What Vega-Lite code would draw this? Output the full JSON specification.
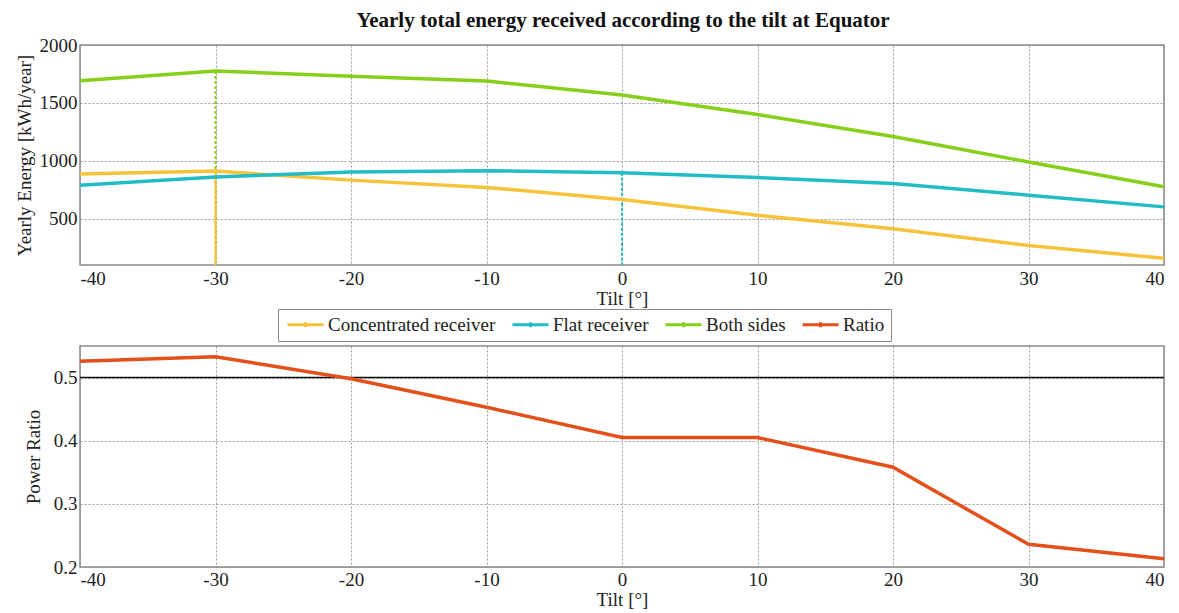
{
  "$schema": "https://vega.github.io/schema/vega-lite/v6.json",
  "padding": {"left": 14, "top": 10, "right": 6, "bottom": 0},
  "background": "white",
  "title": {"text": "Yearly total energy received according to the tilt at Equator", "font": "Liberation Serif", "fontSize": 21, "fontWeight": "bold", "color": "#111", "offset": 4, "anchor": "middle", "dx": 30},
  "config": {
    "font": "Liberation Serif",
    "view": {"stroke": "#8a8a8a", "strokeWidth": 1.5},
    "axis": {
      "labelFont": "Liberation Serif", "labelFontSize": 19, "labelColor": "#222",
      "titleFont": "Liberation Serif", "titleFontSize": 19, "titleFontWeight": "normal", "titleColor": "#222",
      "domain": false, "ticks": false,
      "gridColor": "#8f8f9a", "gridDash": [2, 2], "gridWidth": 1, "gridOpacity": 0.9
    },
    "legend": {
      "labelFont": "Liberation Serif", "labelFontSize": 19, "labelColor": "#222", "labelLimit": 400,
      "symbolType": "M-1,0H5M2,-0.4V0.4", "symbolStrokeWidth": 3, "symbolSize": 144,
      "labelOffset": 25, "strokeColor": "#8a8a8a", "padding": 6, "columnPadding": 10
    }
  },
  "datasets": {
    "energy": [
      {"tilt": -40, "series": "Concentrated receiver", "value": 885},
      {"tilt": -30, "series": "Concentrated receiver", "value": 911},
      {"tilt": -20, "series": "Concentrated receiver", "value": 833},
      {"tilt": -10, "series": "Concentrated receiver", "value": 770},
      {"tilt": 0, "series": "Concentrated receiver", "value": 665},
      {"tilt": 10, "series": "Concentrated receiver", "value": 529},
      {"tilt": 20, "series": "Concentrated receiver", "value": 413},
      {"tilt": 30, "series": "Concentrated receiver", "value": 268},
      {"tilt": 40, "series": "Concentrated receiver", "value": 158},
      {"tilt": -40, "series": "Flat receiver", "value": 789},
      {"tilt": -30, "series": "Flat receiver", "value": 860},
      {"tilt": -20, "series": "Flat receiver", "value": 903},
      {"tilt": -10, "series": "Flat receiver", "value": 915},
      {"tilt": 0, "series": "Flat receiver", "value": 897},
      {"tilt": 10, "series": "Flat receiver", "value": 856},
      {"tilt": 20, "series": "Flat receiver", "value": 804},
      {"tilt": 30, "series": "Flat receiver", "value": 703},
      {"tilt": 40, "series": "Flat receiver", "value": 602},
      {"tilt": -40, "series": "Both sides", "value": 1692},
      {"tilt": -30, "series": "Both sides", "value": 1775},
      {"tilt": -20, "series": "Both sides", "value": 1730},
      {"tilt": -10, "series": "Both sides", "value": 1689},
      {"tilt": 0, "series": "Both sides", "value": 1568},
      {"tilt": 10, "series": "Both sides", "value": 1399},
      {"tilt": 20, "series": "Both sides", "value": 1210},
      {"tilt": 30, "series": "Both sides", "value": 990},
      {"tilt": 40, "series": "Both sides", "value": 775}
    ],
    "markers": [
      {"tilt": -30, "series": "Both sides", "top": 1775, "bottom": 100},
      {"tilt": -30, "series": "Concentrated receiver", "top": 911, "bottom": 100},
      {"tilt": 0, "series": "Flat receiver", "top": 897, "bottom": 100}
    ],
    "ratio": [
      {"tilt": -40, "ratio": 0.526},
      {"tilt": -30, "ratio": 0.533},
      {"tilt": -20, "ratio": 0.498},
      {"tilt": -10, "ratio": 0.453},
      {"tilt": 0, "ratio": 0.405},
      {"tilt": 10, "ratio": 0.405},
      {"tilt": 20, "ratio": 0.358},
      {"tilt": 30, "ratio": 0.236},
      {"tilt": 40, "ratio": 0.213}
    ],
    "ref": [{"level": 0.5}]
  },
  "spacing": 2,
  "resolve": {"scale": {"color": "independent"}, "legend": {"color": "independent"}},
  "vconcat": [
    {
      "width": 1084,
      "height": 220,
      "layer": [
        {
          "data": {"name": "markers"},
          "mark": {"type": "rule", "strokeWidth": 2},
          "encoding": {
            "x": {"field": "tilt", "type": "quantitative"},
            "y": {"field": "top", "type": "quantitative"},
            "y2": {"field": "bottom"},
            "color": {"field": "series", "type": "nominal"},
            "strokeDash": {"field": "series", "type": "nominal", "legend": null,
              "scale": {"domain": ["Concentrated receiver", "Flat receiver", "Both sides"], "range": [[1, 0], [3, 2], [3, 2]]}}
          }
        },
        {
          "data": {"name": "energy"},
          "mark": {"type": "line", "strokeWidth": 3.5},
          "encoding": {
            "x": {"field": "tilt", "type": "quantitative", "title": "Tilt [°]",
              "scale": {"domain": [-40, 40], "nice": false},
              "axis": {"values": [-40, -30, -20, -10, 0, 10, 20, 30, 40], "labelExpr": "toString(datum.value)", "labelPadding": 4, "titlePadding": 1}},
            "y": {"field": "value", "type": "quantitative", "title": "Yearly Energy [kWh/year]",
              "scale": {"domain": [100, 2000], "nice": false, "zero": false},
              "axis": {"values": [500, 1000, 1500, 2000], "labelExpr": "toString(datum.value)", "labelPadding": 3, "titlePadding": 5}},
            "color": {"field": "series", "type": "nominal",
              "scale": {"domain": ["Concentrated receiver", "Flat receiver", "Both sides", "Ratio"],
                        "range": ["#F7C33C", "#22BCC4", "#86CF1A", "#E4501A"]},
              "legend": {"title": null, "orient": "none", "legendX": 198, "legendY": 264, "direction": "horizontal"}}
          }
        }
      ]
    },
    {
      "width": 1084,
      "height": 221,
      "layer": [
        {
          "data": {"name": "ref"},
          "mark": {"type": "rule", "color": "#111", "strokeWidth": 1.5},
          "encoding": {"y": {"field": "level", "type": "quantitative"}}
        },
        {
          "data": {"name": "ratio"},
          "mark": {"type": "line", "strokeWidth": 3.5, "color": "#E4501A"},
          "encoding": {
            "x": {"field": "tilt", "type": "quantitative", "title": "Tilt [°]",
              "scale": {"domain": [-40, 40], "nice": false},
              "axis": {"values": [-40, -30, -20, -10, 0, 10, 20, 30, 40], "labelExpr": "toString(datum.value)", "labelPadding": 3, "titlePadding": 1}},
            "y": {"field": "ratio", "type": "quantitative", "title": "Power Ratio",
              "scale": {"domain": [0.2, 0.55], "nice": false, "zero": false},
              "axis": {"values": [0.2, 0.3, 0.4, 0.5], "format": ".1f", "labelPadding": 3, "titlePadding": 10}}
          }
        }
      ]
    }
  ]
}
